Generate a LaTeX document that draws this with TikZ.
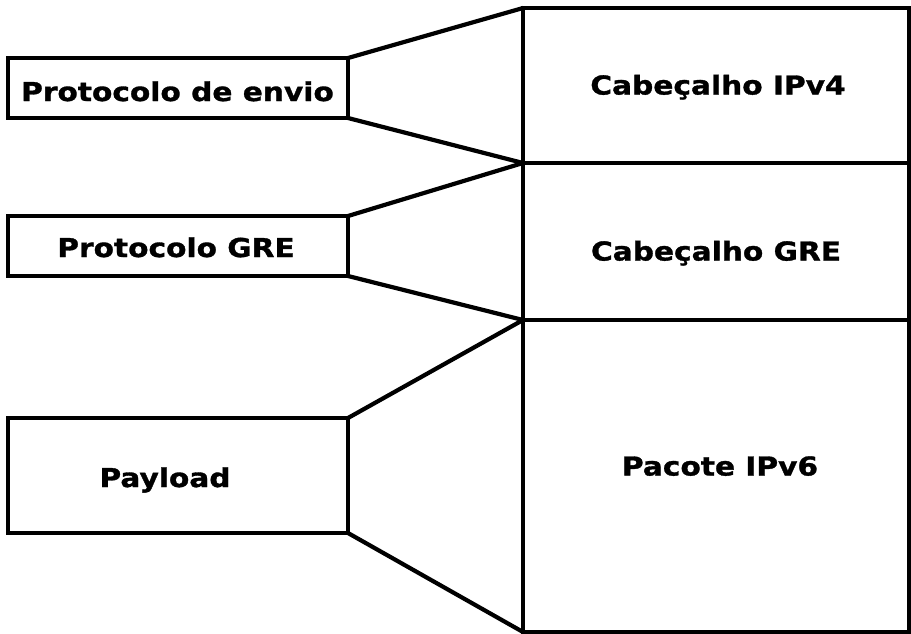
\documentclass[tikz,border=0pt]{standalone}
\usepackage{fontspec}
\setmainfont{DejaVu Sans}[FakeStretch=1.14]
\newfontfamily\labelfont{DejaVu Sans Bold}[FakeStretch=1.14, FakeBold=1.2]
\usepackage{tikz}
\usetikzlibrary{positioning}

\begin{document}
\begin{tikzpicture}[x=1pt, y=-1pt,
  cell/.style={draw, line width=4.3pt, inner sep=0pt, outer sep=0pt, minimum width=386pt},
  lbl/.style={draw, line width=4.3pt, inner sep=0pt, outer sep=0pt, minimum width=340pt},
  txt/.style={anchor=base, inner sep=0pt, font=\fontsize{26}{31}\labelfont},
  fan/.style={line width=4.2pt, line cap=round}]
\useasboundingbox (0,0) rectangle (911,633);
% packet layers on the right
\node[cell, minimum height=155pt] (ipv4) at (716,85.5) {};
\node[cell, minimum height=157pt, below=0pt of ipv4] (greh) {};
\node[cell, minimum height=312pt, below=0pt of greh] (ipv6) {};
\node[txt] (tipv4) at (718,94.5) {Cabeçalho IPv4};
\node[txt] (tgreh) at (716,260.5) {Cabeçalho GRE};
\node[txt] (tipv6) at (720,475.5) {Pacote IPv6};
% what each layer carries
\node[lbl, minimum height=60pt] (envio) at (178,88) {};
\node[lbl, minimum height=60pt] (gre) at (178,246) {};
\node[lbl, minimum height=115pt] (pay) at (178,475.5) {};
\node[txt] (tenvio) at (177.5,101) {Protocolo de envio};
\node[txt] (tgre) at (176,257) {Protocolo GRE};
\node[txt] (tpay) at (165,487) {Payload};
\draw[fan] (envio.north east) -- (ipv4.north west); \draw[fan] (envio.south east) -- (ipv4.south west);
\draw[fan] (gre.north east) -- (greh.north west); \draw[fan] (gre.south east) -- (greh.south west);
\draw[fan] (pay.north east) -- (ipv6.north west); \draw[fan] (pay.south east) -- (ipv6.south west);
\end{tikzpicture}
\end{document}
